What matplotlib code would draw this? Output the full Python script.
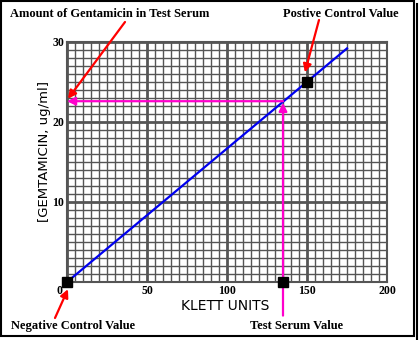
import matplotlib
matplotlib.use("Agg")
import matplotlib.pyplot as plt
from matplotlib.patches import Rectangle
from matplotlib.lines import Line2D

# Data
curve_x = [0, 175]
curve_y = [0, 29.2]
neg_control = (0, 0)
pos_control = (150, 25)
test_klett = 135
test_gent = 22.6
xticks = [0, 50, 100, 150, 200]
yticks = [10, 20, 30]

W, H = 420, 340
fig = plt.figure(figsize=(W / 100, H / 100), dpi=100)
fig.patch.set_facecolor("white")

def fp(x, y):
    return (x / W, 1 - y / H)

l, r, t, b = 67, 387, 42, 282
ax = fig.add_axes([l / W, 1 - b / H, (r - l) / W, (b - t) / H])
ax.set_xlim(0, 200)
ax.set_ylim(0, 30)

grid_c = "#555555"
for xv in range(0, 201, 5):
    ax.axvline(xv, color=grid_c, lw=2.0 if xv % 50 == 0 else 1.0, zorder=1)
for yv in range(0, 31):
    ax.axhline(yv, color=grid_c, lw=2.0 if yv % 10 == 0 else 1.0, zorder=1)
for s in ax.spines.values():
    s.set_color(grid_c)
    s.set_linewidth(1.5)

tick_font = dict(fontfamily="Liberation Serif", fontweight="bold", fontsize=8.5)
ax.set_xticks(xticks)
ax.set_xticklabels(["" if v == 0 else str(v) for v in xticks])
ax.set_yticks(yticks)
ax.set_yticklabels([str(v) for v in yticks])
ax.tick_params(axis="x", length=0, pad=2)
ax.tick_params(axis="y", length=0, pad=2)
for lab in ax.get_xticklabels() + ax.get_yticklabels():
    lab.set_fontfamily(tick_font["fontfamily"])
    lab.set_fontweight(tick_font["fontweight"])
    lab.set_fontsize(tick_font["fontsize"])
ax.annotate(str(xticks[0]), xy=(xticks[0], 0), xytext=(-3, -2), textcoords="offset points",
            ha="right", va="top", annotation_clip=False, **tick_font)

ax.set_xlabel("KLETT UNITS", fontfamily="DejaVu Sans", fontsize=10)
ax.xaxis.set_label_coords((225 - l) / (r - l), (b - 299) / (b - t))
ax.set_ylabel("[GEMTAMICIN, ug/ml]", fontfamily="DejaVu Sans", fontsize=9.5)
ax.yaxis.set_label_coords((51 - l) / (r - l), (b - 152) / (b - t))

ax.plot(curve_x, curve_y, color="#0000ee", lw=1.6, zorder=3)

# magenta arrows
mag = "#ff00cc"
ax.annotate("", xy=(0, test_gent), xytext=(test_klett, test_gent),
            arrowprops=dict(arrowstyle="-|>", color=mag, lw=1.6, mutation_scale=12,
                            shrinkA=0, shrinkB=0), zorder=4, annotation_clip=False)
ax.annotate("", xy=(test_klett, test_gent - 0.2), xytext=(test_klett, -4.2),
            arrowprops=dict(arrowstyle="-|>", color=mag, lw=1.6, mutation_scale=12,
                            shrinkA=0, shrinkB=0), zorder=4, annotation_clip=False)

ms = 7.5
for (px, py) in [neg_control, pos_control, (test_klett, 0)]:
    ax.plot(px, py, marker="s", color="black", ms=ms, clip_on=False, zorder=5)

# labels and red arrows
tf = dict(fontfamily="Liberation Serif", fontweight="bold", fontsize=9)
fig.text(*fp(10, 14), "Amount of Gentamicin in Test Serum", ha="left", va="center", **tf)
fig.text(*fp(283, 14), "Postive Control Value", ha="left", va="center", **tf)
fig.text(*fp(11, 326), "Negative Control Value", ha="left", va="center", **tf)
fig.text(*fp(250, 326), "Test Serum Value", ha="left", va="center", **tf)

red_arrows = [((125, 22), (0.6, 22.9)), ((319, 20), (148.7, 26.2)), ((55, 318), (0.6, -0.9))]
for (sx, sy), tip in red_arrows:
    ax.annotate("", xy=tip, xycoords="data", xytext=fp(sx, sy), textcoords="figure fraction",
                arrowprops=dict(arrowstyle="-|>", color="red", lw=1.6, mutation_scale=12,
                                shrinkA=0, shrinkB=0), zorder=6, annotation_clip=False)

# frame
fig.add_artist(Rectangle(fp(1, 336), 413 / W, 335 / H, transform=fig.transFigure,
                         fill=False, edgecolor="black", lw=1.5))
fig.add_artist(Line2D([417 / W, 417 / W], [0, 1 - 4 / H], transform=fig.transFigure,
                      color="black", lw=1.5))

fig.savefig("out.png", dpi=100)
